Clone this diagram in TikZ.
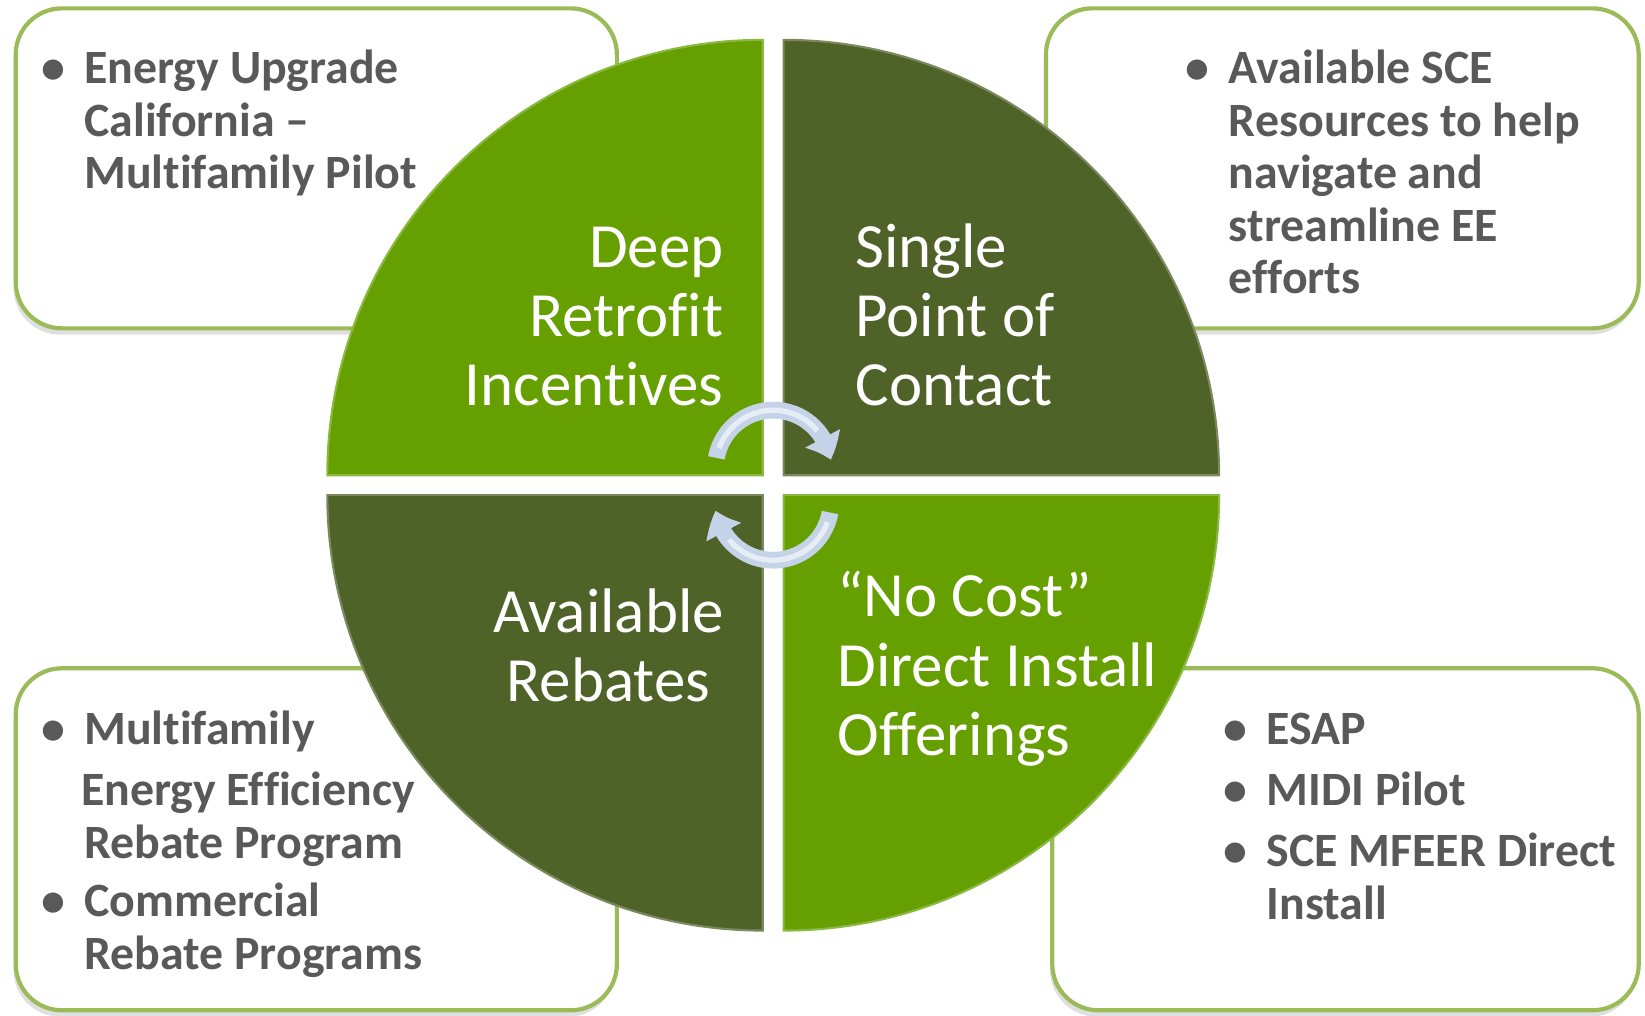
\documentclass[tikz,border=0pt]{standalone}
\usepackage{fontspec}
\setmainfont{Carlito}[Ligatures=NoCommon]
\usetikzlibrary{arrows.meta,bending,shadows}
\definecolor{leafgreen}{HTML}{65A000}
\definecolor{mossgreen}{HTML}{4F6228}
\definecolor{boxgreen}{HTML}{9BBB59}
\definecolor{ink}{HTML}{595959}
\definecolor{arrowblue}{HTML}{C5D3E8}
\newcommand{\quadfont}{\fontsize{30}{33}\selectfont}
\newcommand{\listfont}{\fontsize{22.8}{25}\selectfont\bfseries}

\begin{document}
\begin{tikzpicture}[x=0.5pt,y=0.5pt,
    infobox/.style={draw=boxgreen,line width=2pt,fill=white,rounded corners=22pt,
      drop shadow={shadow xshift=-1pt,shadow yshift=-3pt,opacity=0.25}},
    quad/.style={fill=#1,draw=#1!75!white,line width=1pt},
    quadtext/.style={text=white,font=\quadfont,inner sep=0pt},
    listtext/.style={text=ink,font=\listfont,inner sep=0pt},
    turn/.style={arrowblue,line width=8pt,-{Triangle[width=18pt,length=11pt,bend]}},
    shine/.style={white,opacity=0.6,line width=2.5pt}]
  \useasboundingbox (0,0) rectangle (1568,968);
  % side boxes
  \draw[infobox] (15,655) rectangle (588,960);
  \draw[infobox] (997,655) rectangle (1562,960);
  \draw[infobox] (15,5) rectangle (588,331);
  \draw[infobox] (1003,5) rectangle (1562,331);
  % four quarters of the circle
  \path[quad=leafgreen] (312,515) arc[start angle=180,end angle=90,radius=207.5pt] -- (727,515) -- cycle;
  \path[quad=mossgreen] (747,930) arc[start angle=90,end angle=0,radius=207.5pt] -- (747,515) -- cycle;
  \path[quad=mossgreen] (312,496) arc[start angle=180,end angle=270,radius=207.5pt] -- (727,496) -- cycle;
  \path[quad=leafgreen] (747,81) arc[start angle=270,end angle=360,radius=207.5pt] -- (747,496) -- cycle;
  % quarter labels
  \node[quadtext,anchor=base east] (deep) at (690,713)
    {\begin{tabular}[t]{@{}r@{}}Deep\\Retrofit\\Incentives\end{tabular}};
  \node[quadtext,anchor=base west] (single) at (815,713)
    {\begin{tabular}[t]{@{}l@{}}Single\\Point of\\Contact\end{tabular}};
  \node[quadtext,anchor=base] (rebates) at (580,365)
    {\begin{tabular}[t]{@{}c@{}}Available\\Rebates\end{tabular}};
  \node[quadtext,anchor=base west] (nocost) at (798,380)
    {\begin{tabular}[t]{@{}l@{}}“No Cost”\\Direct Install\\Offerings\end{tabular}};
  % box lists
  \node[listtext,anchor=base west] (upgrade) at (39,888)
    {\begin{tabular}[t]{@{}p{20.5pt}@{}l@{}}\textbullet & Energy Upgrade\\ & California –\\ & Multifamily Pilot\end{tabular}};
  \node[listtext,anchor=base west] (resources) at (1130,888)
    {\begin{tabular}[t]{@{}p{20.5pt}@{}l@{}}\textbullet & Available SCE\\ & Resources to help\\ & navigate and\\ & streamline EE\\ & efforts\end{tabular}};
  \node[listtext,anchor=base west] (rebatelist) at (39,258)
    {\begin{tabular}[t]{@{}p{20.5pt}@{}l@{}}\textbullet & Multifamily\\[4pt] & \hspace*{-1.5pt}Energy Efficiency\\ & Rebate Program\\[3pt]
     \textbullet & Commercial\\ & Rebate Programs\end{tabular}};
  \node[listtext,anchor=base west] (installlist) at (1166,258)
    {\begin{tabular}[t]{@{}p{20.5pt}@{}l@{}}\textbullet & ESAP\\[4pt] \textbullet & MIDI Pilot\\[4pt] \textbullet & SCE MFEER Direct\\ & Install\end{tabular}};
  % cycle arrows in the middle
  \coordinate (topturn) at (737,522);
  \coordinate (botturn) at (737,489);
  \draw[turn] (topturn) ++(170:27.5pt) arc[start angle=170,end angle=8,radius=27.5pt];
  \draw[shine] (topturn) ++(160:27.5pt) arc[start angle=160,end angle=40,radius=27.5pt];
  \draw[turn] (botturn) ++(-10:27.5pt) arc[start angle=-10,end angle=-172,radius=27.5pt];
  \draw[shine] (botturn) ++(-20:27.5pt) arc[start angle=-20,end angle=-140,radius=27.5pt];
\end{tikzpicture}
\end{document}
